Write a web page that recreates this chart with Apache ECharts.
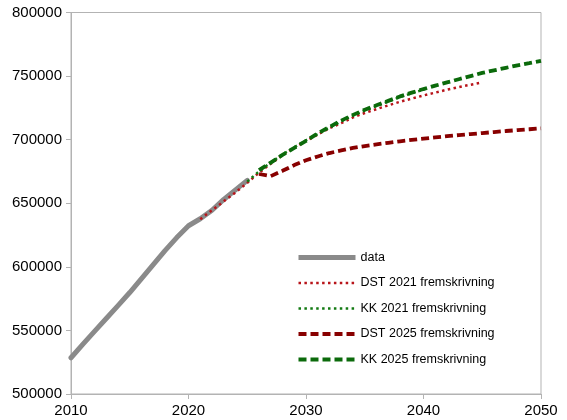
<!DOCTYPE html>
<html>
<head>
<meta charset="utf-8">
<script src="https://cdn.jsdelivr.net/npm/echarts@6/dist/echarts.min.js"></script>
<style>
  html, body { margin: 0; padding: 0; background: #fff; }
  #chart { width: 567px; height: 420px; }
</style>
</head>
<body>
<div id="chart"></div>
<script>
// ---- data ----
const dataYears = [2010, 2011, 2012, 2013, 2014, 2015, 2016, 2017, 2018, 2019, 2020, 2021, 2022, 2023, 2024, 2025];
const dataValues = [528500, 539000, 549300, 559400, 569500, 579800, 590800, 601800, 612700, 623000, 632300, 637800, 644500, 653000, 660500, 668000];

const dst2021Years = [2021, 2022, 2023, 2024, 2025, 2026, 2027, 2028, 2029, 2030, 2031, 2032, 2033, 2034, 2035, 2036, 2037, 2038, 2039, 2040, 2041, 2042, 2043, 2044, 2045];
const dst2021Values = [637500, 644500, 651500, 658500, 666000, 674000, 681000, 688000, 693500, 699000, 704000, 709000, 713000, 717500, 721000, 724000, 727000, 729800, 732300, 734800, 737000, 739300, 741300, 743200, 745000];

const kk2021Years = [2025, 2026, 2027, 2028, 2029, 2030, 2031, 2032, 2033, 2034, 2035, 2036, 2037, 2038, 2039, 2040];
const kk2021Values = [667000, 675000, 682000, 688500, 694000, 699500, 704500, 709500, 714500, 719000, 723000, 726500, 730000, 733500, 736500, 739300];

const dst2025Years = [2026, 2027, 2028, 2029, 2030, 2031, 2032, 2033, 2034, 2035, 2036, 2037, 2038, 2039, 2040, 2041, 2042, 2043, 2044, 2045, 2046, 2047, 2048, 2049, 2050];
const dst2025Values = [673000, 671300, 675500, 680000, 683800, 686800, 689500, 691500, 693500, 695000, 696300, 697500, 698700, 699800, 700800, 701800, 702700, 703600, 704400, 705200, 706000, 706800, 707500, 708200, 708900];

const kk2025Years = [2026, 2027, 2028, 2029, 2030, 2031, 2032, 2033, 2034, 2035, 2036, 2037, 2038, 2039, 2040, 2041, 2042, 2043, 2044, 2045, 2046, 2047, 2048, 2049, 2050];
const kk2025Values = [676000, 682000, 688000, 693500, 699000, 705000, 710000, 715000, 719500, 723500, 727000, 730500, 734000, 737000, 739800, 742500, 745000, 747500, 750000, 752500, 754500, 756500, 758500, 760200, 762000];

const xTicks = [2010, 2020, 2030, 2040, 2050];
const yTicks = [500000, 550000, 600000, 650000, 700000, 750000, 800000];

const seriesNames = ['data', 'DST 2021 fremskrivning', 'KK 2021 fremskrivning', 'DST 2025 fremskrivning', 'KK 2025 fremskrivning'];

function pairs(xs, ys) { return xs.map((x, i) => [x, ys[i]]); }

const styles = [
  { color: '#8a8a8a', width: 5, type: 'solid', cap: 'round', join: 'round' },
  { color: '#b8141a', width: 2.5, type: [2.5, 3.4] },
  { color: '#127a12', width: 2.5, type: [2.5, 3.4] },
  { color: '#880000', width: 3.8, type: [8, 4] },
  { color: '#0b6a0b', width: 3.8, type: [8, 4] }
];
const seriesData = [
  pairs(dataYears, dataValues),
  pairs(dst2021Years, dst2021Values),
  pairs(kk2021Years, kk2021Values),
  pairs(dst2025Years, dst2025Values),
  pairs(kk2025Years, kk2025Values)
];

const chart = echarts.init(document.getElementById('chart'), null, { renderer: 'canvas' });
const font = 'Liberation Sans, Arial, sans-serif';

chart.setOption({
  animation: false,
  backgroundColor: '#ffffff',
  grid: {
    left: 71, right: 26, top: 12.5, bottom: 26,
    show: true, borderColor: '#b3b3b3', borderWidth: 1
  },
  xAxis: {
    type: 'value',
    min: xTicks[0], max: xTicks[xTicks.length - 1], interval: 10,
    axisLine: { show: true, lineStyle: { color: '#b3b3b3', width: 1 } },
    axisTick: { show: true, length: 5, lineStyle: { color: '#b3b3b3' } },
    splitLine: { show: false },
    axisLabel: { color: '#000', fontSize: 15, fontFamily: font, margin: 9, formatter: v => String(v) }
  },
  yAxis: {
    type: 'value',
    min: yTicks[0], max: yTicks[yTicks.length - 1], interval: 50000,
    axisLine: { show: true, lineStyle: { color: '#b3b3b3', width: 1 } },
    axisTick: { show: true, length: 5, lineStyle: { color: '#b3b3b3' } },
    splitLine: { show: false },
    axisLabel: { color: '#000', fontSize: 15, fontFamily: font, margin: 9, formatter: v => String(v) }
  },
  legend: {
    orient: 'vertical',
    left: 296, top: 251, padding: 0,
    itemWidth: 57, itemHeight: 14, itemGap: 12.5,
    textStyle: { color: '#000', fontSize: 12.5, fontFamily: font },
    itemStyle: { opacity: 0 },
    data: seriesNames.map((n, i) => ({
      name: n,
      lineStyle: { color: styles[i].color, width: styles[i].width, type: styles[i].type, cap: 'butt' },
      itemStyle: { opacity: 0 }
    }))
  },
  series: seriesNames.map((n, i) => ({
    name: n, type: 'line', symbol: 'none', data: seriesData[i],
    lineStyle: styles[i],
    itemStyle: { color: styles[i].color }
  }))
});
</script>
</body>
</html>
